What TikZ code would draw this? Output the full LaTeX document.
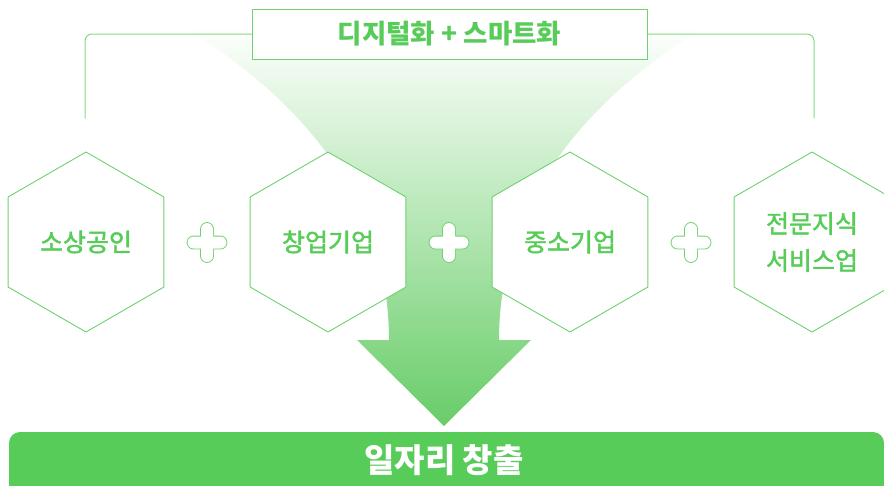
\documentclass[tikz,border=0pt]{standalone}
\usepackage{fontspec}
\setmainfont{Noto Sans CJK KR}
\newfontfamily\labelfont{Noto Sans CJK KR}[FakeBold=1.8]
\usetikzlibrary{shapes.geometric}
\definecolor{leaf}{RGB}{88,204,88}
\definecolor{leafline}{RGB}{110,210,110}
\definecolor{leafarrow}{RGB}{104,205,104}
\begin{document}
\begin{tikzpicture}[x=1pt,y=-1pt,line join=round,line cap=round,
  hexa/.style={draw=leafline,fill=white,line width=.9pt,regular polygon,regular polygon sides=6,
    shape border rotate=30,minimum size=180pt,inner sep=0pt,outer sep=0pt,text=leaf,align=center,
    font=\labelfont\fontsize{25}{37}\selectfont},
  titlebox/.style={draw=leafline,fill=white,line width=1pt,minimum width=395pt,minimum height=50pt,
    inner sep=0pt,outer sep=0pt,text=leaf,font=\fontsize{26.5}{30}\selectfont\bfseries},
  bracket/.style={draw=leafline!85,line width=1pt,rounded corners=7pt}]
	\useasboundingbox (0,0) rectangle (884,485);
	\def\hw{6} \def\hl{19.5}
	\shade[top color=white,bottom color=leafarrow]
	  (180,25) .. controls (300,97) and (389,200) .. (389,340) -- (357,340) -- (444,426)
	  -- (531,340) -- (499,340) .. controls (499,200) and (588,97) .. (708,25) -- cycle;
	\node[titlebox] (trend) at (449.5,34) {디지털화 + 스마트화};
	\coordinate (lefttip) at (85,118);
	\coordinate (righttip) at (814,118);
	\draw[bracket] (trend.west) -| (lefttip);
	\draw[bracket] (trend.east) -| (righttip);
	\node[hexa] (shop) at (86,242) {소상공인};
	\node[hexa] (startup) at (328,242) {창업기업};
	\node[hexa] (sme) at (570,242) {중소기업};
	\node[hexa] (expert) at (812,242) {전문지식\\서비스업};
	\foreach \cx in {207,449,691}{
	  \begin{scope}[shift={(\cx,242.5)},rounded corners=\hw pt]
	    \draw[leafline,line width=1.8pt] (-\hw,-\hl) rectangle (\hw,\hl) (-\hl,-\hw) rectangle (\hl,\hw);
	    \fill[white] (-\hw,-\hl) rectangle (\hw,\hl) (-\hl,-\hw) rectangle (\hl,\hw);
	  \end{scope}}
	\fill[leaf,rounded corners=11pt] (9,432) rectangle (884,510);
	\node[text=white,font=\fontsize{33}{38}\selectfont\bfseries] (jobs) at (444,460) {일자리 창출};
\end{tikzpicture}
\end{document}
